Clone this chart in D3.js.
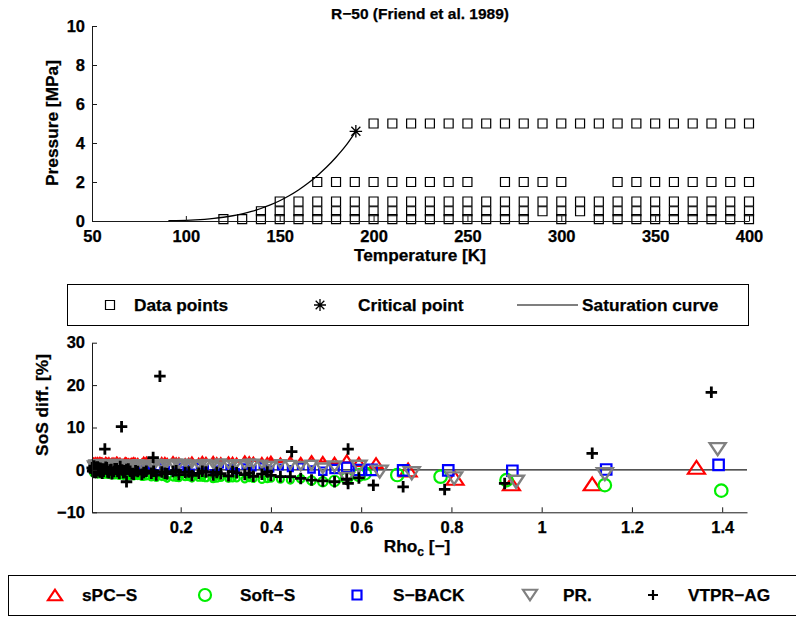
<!DOCTYPE html>
<html>
<head>
<meta charset="utf-8">
<script src="https://cdn.jsdelivr.net/npm/d3@7"></script>
<style>
  body { margin: 0; background: #fff; }
  svg text { font-family: "Liberation Sans", Arial, Helvetica, sans-serif; font-weight: bold; fill: #000;
             stroke: #000; stroke-width: 0.25px; }
</style>
</head>
<body>
<svg id="fig" width="796" height="620"></svg>
<script>
// ---------- Upper panel: measured state points of R-50 ----------
const pressureLevels = [5, 2, 1, 0.5, 0.1];            // MPa
const tempsAt5MPa  = [200,210,220,230,240,250,260,270,280,290,300,310,320,330,340,350,360,370,380,390,400];
const tempsAt2MPa  = [170,180,190,200,210,220,230,240,250,270,280,290,300,330,340,350,360,370,380,390,400];
const tempsAt1MPa  = [150,160,170,180,190,200,210,220,230,240,250,260,270,280,290,300,310,320,330,340,350,360,370,380,390,400];
const tempsAt05MPa = [140,150,160,170,180,190,200,210,220,230,240,250,260,270,280,290,300,310,320,330,340,350,360,370,380,390,400];
const tempsAt01MPa = [120,130,140,150,160,170,180,190,200,210,220,230,240,250,260,270,280,300,320,330,340,350,360,370,380,390,400];

// vapour pressure curve (K, MPa) from the triple point to the critical point
const satTemps = [90.7, 95, 100, 105, 110, 115, 120, 125, 130, 135, 140, 145, 150, 155, 160, 165, 170, 175, 180, 185, 190.56];
const satPress = [0.0117, 0.0199, 0.0344, 0.0563, 0.0881, 0.1324, 0.1917, 0.2688, 0.3673, 0.4896, 0.6412, 0.8243, 1.0405, 1.2939, 1.5921, 1.9368, 2.3247, 2.7656, 3.2701, 3.8364, 4.5992];
const criticalPoint = [190.56, 4.5992];

const tempTicks = [50, 100, 150, 200, 250, 300, 350, 400];
const pressTicks = [0, 2, 4, 6, 8, 10];

// ---------- Lower panel: speed-of-sound deviations ----------
// reduced densities of the low/medium density points (two sweeps)
const rhoDense = [0.004,0.006,0.008,0.010,0.013,0.016,0.019,0.022,0.026,0.030,
                  0.034,0.038,0.043,0.048,0.054,0.060,0.066,0.073,0.080,0.088,
                  0.096,0.105,0.114,0.124,0.135,0.146,0.158,0.170,0.183,0.196,
                  0.210,0.225,0.240,0.256,0.272,0.289,0.306,0.324,0.342,0.361,
                  0.380,0.400,0.421,0.443,0.466,0.490,0.515,0.541,0.568,0.595];
const rhoDense2 = [0.005,0.007,0.009,0.012,0.015,0.018,0.021,0.025,0.029,0.036,
                   0.041,0.046,0.052,0.058,0.064,0.070,0.077,0.084,0.092,0.100,
                   0.118,0.140,0.165,0.190,0.218,0.248,0.280,0.315,0.352,0.392];

const spcsDense = [2.0,2.3,2.1,2.4,2.2,2.5,2.3,2.1,2.4,2.2,2.6,2.3,2.1,2.4,2.2,2.5,2.3,2.0,2.4,2.2,2.5,
                   2.3,2.1,2.6,2.4,2.2,2.5,2.3,2.7,2.4,2.2,2.6,2.3,2.5,2.7,2.4,2.6,2.3,2.8,2.5,2.4,2.7,2.3,2.6,2.4,2.8,2.5,2.2,2.6,1.9];
const spcsDense2 = [2.2,2.4,2.1,2.5,2.3,2.2,2.6,2.4,2.1,2.3,2.5,2.2,2.4,2.6,2.3,2.1,2.5,2.2,2.4,2.3,
                    2.6,2.2,2.5,2.4,2.3,2.7,2.4,2.5,2.6,2.4];
const softDense = [-0.8,-1.0,-0.9,-1.1,-1.0,-1.2,-0.9,-1.1,-1.3,-1.0,-1.2,-1.4,-1.1,-1.3,-1.5,-1.2,-1.4,-1.6,-1.3,-1.5,-1.7,
                   -1.6,-1.8,-1.7,-1.9,-2.0,-1.8,-2.2,-1.9,-2.0,-1.8,-2.1,-1.9,-2.0,-2.2,-1.9,-2.1,-2.0,-2.2,-2.1,-2.3,-2.0,-2.2,-2.4,-2.1,-2.5,-2.8,-2.6,-1.9,-1.2];
const softDense2 = [-0.9,-1.1,-1.0,-1.2,-0.8,-1.3,-1.1,-1.0,-1.4,-1.2,-1.3,-1.5,-1.2,-1.4,-1.6,-1.3,-1.5,-1.7,-1.4,-1.6,
                    -1.8,-1.7,-1.9,-2.0,-1.8,-1.9,-2.1,-2.0,-1.9,-2.1];
const sbackDense = [0.2,-0.3,0.4,0.0,-0.5,0.3,-0.2,0.5,0.1,-0.4,0.3,0.0,-0.3,0.4,0.1,-0.2,0.5,0.0,-0.4,0.3,0.1,
                    0.6,-0.3,0.8,0.2,-0.5,0.9,0.4,-0.6,1.0,0.3,-0.4,0.9,0.5,-0.5,1.1,0.6,-0.3,0.8,0.4,1.0,0.2,0.7,0.3,0.9,0.1,-0.3,0.2,0.6,0.0];
const sbackDense2 = [0.1,0.4,-0.2,0.3,0.0,-0.4,0.2,0.5,-0.1,0.3,-0.3,0.1,0.4,-0.2,0.2,0.0,0.5,-0.3,0.1,0.3,
                     0.7,0.2,0.8,0.4,0.6,0.9,0.3,0.7,1.0,0.5];
const prDense = [1.3,0.9,1.5,1.1,0.7,1.4,1.0,1.6,1.2,0.8,1.5,1.1,1.3,0.9,1.6,1.2,1.0,1.4,0.8,1.3,1.1,
                 1.5,1.0,1.4,1.2,1.6,1.1,1.5,1.3,1.2,1.6,1.4,1.1,1.5,1.3,1.6,1.2,1.4,1.1,1.5,1.3,1.0,1.4,1.2,0.9,1.1,0.4,0.8,-2.0,0.8];
const prDense2 = [1.0,1.4,0.8,1.2,1.6,0.9,1.3,1.1,1.5,0.7,1.2,1.4,1.0,1.6,0.8,1.3,1.1,1.5,0.9,1.2,
                  1.4,1.0,1.3,1.6,1.1,1.4,0.9,1.3,1.5,1.0];
const vtprDense = [0.5,-0.3,0.9,0.1,-0.6,0.7,-0.2,0.4,-0.8,0.2,0.6,-0.5,0.0,-0.9,0.3,-0.4,0.8,-0.7,0.1,-0.3,-1.0,
                   -0.4,-1.0,-0.3,-0.8,-1.2,-0.5,-0.9,-0.4,-1.1,-0.6,-1.3,-0.8,-0.5,-1.2,-0.9,-1.4,-0.7,-1.1,-1.5,-1.0,-1.3,-1.6,-1.6,-2.0,-2.4,-2.6,-2.8,-2.2,-1.9];
const vtprDense2 = [-0.2,0.3,-0.6,0.6,-0.1,0.4,-0.5,0.2,-0.3,0.5,-0.7,0.1,-0.4,0.3,-0.8,0.0,-0.5,0.2,-0.9,-0.2,
                    -0.6,-0.3,-0.8,-0.2,-0.5,-0.3,-0.6,-0.4,-0.7,-0.5];

// high-density points [rho_c, deviation %]
const spcsHigh  = [[0.633,1.6],[0.704,0.0],[0.808,-2.0],[0.933,-3.3],[1.112,-3.3],[1.343,0.6]];
const softHigh  = [[0.608,-0.8],[0.680,-1.2],[0.776,-1.6],[0.922,-2.4],[1.140,-3.6],[1.398,-4.9]];
const sbackHigh = [[0.623,0.0],[0.693,-0.1],[0.793,-0.1],[0.935,-0.2],[1.143,0.1],[1.392,1.2]];
const prHigh    = [[0.641,-0.4],[0.712,-0.8],[0.806,-2.0],[0.943,-2.8],[1.140,-1.0],[1.390,4.9]];
const vtprExtra = [[0.032,4.9],[0.069,10.2],[0.154,22.1],[0.139,2.9],[0.080,-2.8],[0.446,4.3],[0.571,4.9],[0.571,-3.2],
                   [0.627,-3.6],[0.693,-4.0],[0.785,-4.6],[0.918,-3.2],[1.112,3.9],[1.376,18.3]];

const modelNames = ["sPC\u2212S", "Soft\u2212S", "S\u2212BACK", "PR.", "VTPR\u2212AG"];
const devTicks = [-10, 0, 10, 20, 30];
const rhoTicks = [0.2, 0.4, 0.6, 0.8, 1.0, 1.2, 1.4];

// ---------------------------------------------------------------
const svg = d3.select("#fig");
const FS = 16.5;     // tick labels
const FL = 17.3;     // axis labels and legends
const axisColor = "#1a1a1a";

function styleAxis(g) {
  g.selectAll("path.domain").attr("stroke", axisColor).attr("stroke-width", 1);
  g.selectAll(".tick line").attr("stroke", axisColor).attr("stroke-width", 1);
  g.selectAll(".tick text").attr("font-size", FS).attr("font-family", null).attr("fill", "#000");
}

// marker shapes centred on (0,0)
function markerPath(kind, s) {
  const h = s * 0.75;
  switch (kind) {
    case "up":   return `M0,${-h/2}L${s/2},${h/2}L${-s/2},${h/2}Z`;
    case "down": return `M${-s/2},${-h/2}L${s/2},${-h/2}L0,${h/2}Z`;
    case "square": return `M${-s/2},${-s/2}H${s/2}V${s/2}H${-s/2}Z`;
    case "circle": return `M${s/2},0A${s/2},${s/2} 0 1,1 ${-s/2},0A${s/2},${s/2} 0 1,1 ${s/2},0Z`;
    case "plus": return `M${-s/2},0H${s/2}M0,${-s/2}V${s/2}`;
    case "star": {
      const r = s / 2, d = r * 0.72;
      return `M${-r},0H${r}M0,${-r}V${r}M${-d},${-d}L${d},${d}M${-d},${d}L${d},${-d}`;
    }
  }
}

// ================= Upper panel =================
const xT = d3.scaleLinear().domain([50, 400]).range([92, 749]);
const yP = d3.scaleLinear().domain([0, 10]).range([221, 26]);
const upper = svg.append("g");

upper.append("text").attr("x", 420).attr("y", 19).attr("text-anchor", "middle")
  .attr("font-size", 15.5).text("R\u221250 (Friend et al. 1989)");

// saturation curve
upper.append("path")
  .datum(d3.zip(satTemps, satPress))
  .attr("fill", "none").attr("stroke", "#000").attr("stroke-width", 1.3)
  .attr("d", d3.line().x(d => xT(d[0])).y(d => yP(d[1])).curve(d3.curveMonotoneX));

// state points
const statePoints = [];
[tempsAt5MPa, tempsAt2MPa, tempsAt1MPa, tempsAt05MPa, tempsAt01MPa].forEach((temps, i) => {
  temps.forEach(t => statePoints.push([t, pressureLevels[i]]));
});
upper.append("g").selectAll("path").data(statePoints).join("path")
  .attr("transform", d => `translate(${xT(d[0])},${yP(d[1])})`)
  .attr("d", markerPath("square", 9))
  .attr("fill", "none").attr("stroke", "#000").attr("stroke-width", 1.2);

// critical point
upper.append("path")
  .attr("transform", `translate(${xT(criticalPoint[0])},${yP(criticalPoint[1])})`)
  .attr("d", markerPath("star", 12.5))
  .attr("fill", "none").attr("stroke", "#000").attr("stroke-width", 1.3);

const gxT = upper.append("g").attr("transform", "translate(0,221)")
  .call(d3.axisBottom(xT).tickValues(tempTicks).tickSizeInner(-5).tickSizeOuter(0).tickPadding(9).tickFormat(d3.format("d")));
styleAxis(gxT);
const gyP = upper.append("g").attr("transform", "translate(92,0)")
  .call(d3.axisLeft(yP).tickValues(pressTicks).tickSizeInner(-5).tickSizeOuter(0).tickPadding(7).tickFormat(d3.format("d")));
styleAxis(gyP);

upper.append("text").attr("x", 420).attr("y", 261).attr("text-anchor", "middle")
  .attr("font-size", FL).text("Temperature [K]");
upper.append("text").attr("transform", "translate(58,123) rotate(-90)").attr("text-anchor", "middle")
  .attr("font-size", FL).text("Pressure [MPa]");

// legend of the upper panel
const legA = svg.append("g");
legA.append("rect").attr("x", 67.5).attr("y", 284.5).attr("width", 681).attr("height", 41)
  .attr("fill", "#fff").attr("stroke", "#000").attr("stroke-width", 1);
legA.append("path").attr("transform", "translate(110,305)").attr("d", markerPath("square", 9))
  .attr("fill", "none").attr("stroke", "#000").attr("stroke-width", 1.2);
legA.append("text").attr("x", 134).attr("y", 311).attr("font-size", FL).text("Data points");
legA.append("path").attr("transform", "translate(320,305)").attr("d", markerPath("star", 12))
  .attr("fill", "none").attr("stroke", "#000").attr("stroke-width", 1.3);
legA.append("text").attr("x", 358).attr("y", 311).attr("font-size", FL).text("Critical point");
legA.append("line").attr("x1", 517).attr("x2", 578).attr("y1", 305).attr("y2", 305)
  .attr("stroke", "#000").attr("stroke-width", 1.2);
legA.append("text").attr("x", 582).attr("y", 311).attr("font-size", FL).text("Saturation curve");

// ================= Lower panel =================
const xR = d3.scaleLinear().domain([0.0035, 1.455]).range([92, 747]);
const yD = d3.scaleLinear().domain([-10, 30]).range([512.3, 342.7]);
const lower = svg.append("g");

const series = [
  { name: modelNames[0], kind: "up",     color: "#ff0000", dense: spcsDense,  dense2: spcsDense2,  extra: spcsHigh,  width: 2.2,
    size: d3.scaleLinear().domain([0, 0.5, 0.7]).range([2.5, 5, 17]).clamp(true) },
  { name: modelNames[1], kind: "circle", color: "#00ee00", dense: softDense,  dense2: softDense2,  extra: softHigh,  width: 2.2,
    size: d3.scaleLinear().domain([0, 0.45, 0.6]).range([4, 7, 12.5]).clamp(true) },
  { name: modelNames[2], kind: "square", color: "#0000ff", dense: sbackDense, dense2: sbackDense2, extra: sbackHigh, width: 2.2,
    size: d3.scaleLinear().domain([0, 0.45, 0.6]).range([2.5, 5, 10.5]).clamp(true) },
  { name: modelNames[3], kind: "down",   color: "#808080", dense: prDense,    dense2: prDense2,    extra: prHigh,    width: 2.4,
    size: d3.scaleLinear().domain([0, 0.45, 0.62]).range([8, 10.5, 16]).clamp(true) },
  { name: modelNames[4], kind: "plus",   color: "#000000", dense: vtprDense,  dense2: vtprDense2,  extra: vtprExtra, width: 2.8,
    size: () => 11.5 }
];

// zero reference line
lower.append("line").attr("x1", 92).attr("x2", 747).attr("y1", yD(0)).attr("y2", yD(0))
  .attr("stroke", "#1a1a1a").attr("stroke-width", 1.2);

series.forEach(s => {
  const pts = rhoDense.map((r, i) => [r, s.dense[i]])
    .concat(rhoDense2.map((r, i) => [r, s.dense2[i]]))
    .concat(s.extra);
  lower.append("g").selectAll("path").data(pts).join("path")
    .attr("transform", d => `translate(${xR(d[0])},${yD(d[1])})`)
    .attr("d", d => markerPath(s.kind, s.size(d[0])))
    .attr("fill", "none").attr("stroke", s.color).attr("stroke-width", s.width);
});

const gxR = lower.append("g").attr("transform", `translate(0,${yD(-10)})`)
  .call(d3.axisBottom(xR).tickValues(rhoTicks).tickSizeInner(-5).tickSizeOuter(0).tickPadding(9).tickFormat(d3.format("~g")));
styleAxis(gxR);
const gyD = lower.append("g").attr("transform", "translate(92,0)")
  .call(d3.axisLeft(yD).tickValues(devTicks).tickSizeInner(-5).tickSizeOuter(0).tickPadding(7).tickFormat(d3.format("d")));
styleAxis(gyD);

const xl = lower.append("text").attr("x", 417).attr("y", 552).attr("text-anchor", "middle").attr("font-size", FL);
xl.append("tspan").text("Rho");
xl.append("tspan").attr("font-size", 12).attr("dy", 4).text("c");
xl.append("tspan").attr("dy", -4).text(" [\u2212]");
lower.append("text").attr("transform", "translate(48,405) rotate(-90)").attr("text-anchor", "middle")
  .attr("font-size", FL).text("SoS diff. [%]");

// legend of the lower panel
const legB = svg.append("g");
legB.append("rect").attr("x", 8.5).attr("y", 575.5).attr("width", 800).attr("height", 40)
  .attr("fill", "#fff").attr("stroke", "#000").attr("stroke-width", 1);
const legMarkX = [55, 205, 357, 530, 653];
const legTextX = [82, 240, 393, 563, 688];
const legSize = [14, 12, 9, 14, 10];
series.forEach((s, i) => {
  legB.append("path").attr("transform", `translate(${legMarkX[i]},595)`)
    .attr("d", markerPath(s.kind, legSize[i]))
    .attr("fill", "none").attr("stroke", s.color).attr("stroke-width", 2.2);
  legB.append("text").attr("x", legTextX[i]).attr("y", 601).attr("font-size", FL).text(s.name);
});
</script>
</body>
</html>
